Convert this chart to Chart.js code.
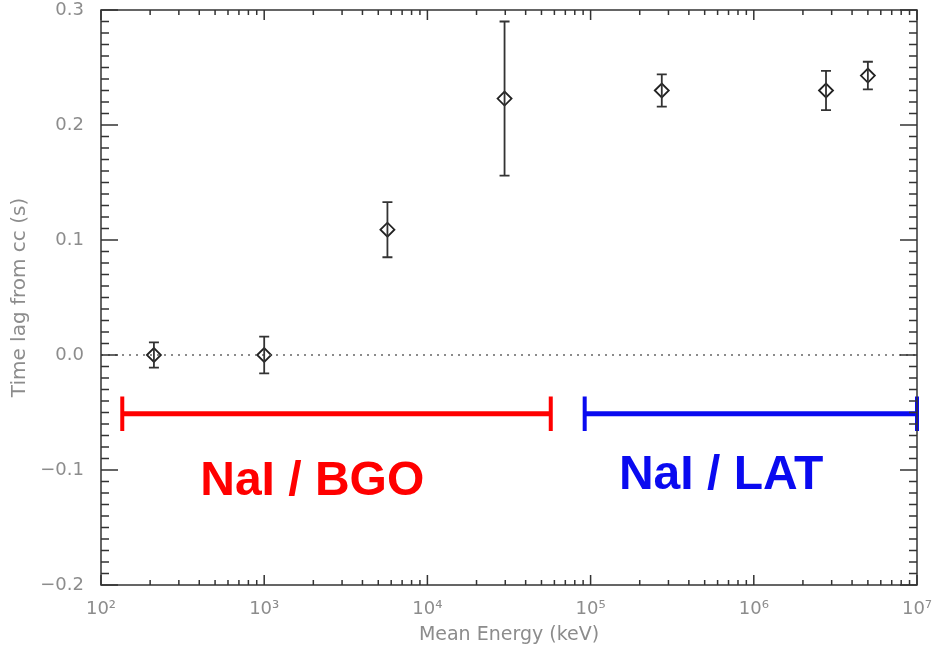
<!DOCTYPE html>
<html>
<head>
<meta charset="utf-8">
<script src="https://cdn.jsdelivr.net/npm/chart.js@4.4.1/dist/chart.umd.min.js"></script>
<style>
  html, body { margin: 0; padding: 0; background: #fff; }
  #wrap { width: 932px; height: 649px; }
</style>
</head>
<body>
<div id="wrap"><canvas id="lagChart" width="932" height="649"></canvas></div>
<script>
// mean energy (keV) of each band and the lag measured from the cross-correlation
const energy = [211, 1000, 5690, 29700, 273000, 2770000, 5000000];
const lag = [0.0, 0.0, 0.109, 0.223, 0.230, 0.230, 0.243];
const lagErr = [0.011, 0.016, 0.024, 0.067, 0.014, 0.017, 0.012];

// detector energy ranges
const naiBgoRange = [135, 57000];
const naiLatRange = [92000, 10000000];
const rangeLevel = -0.051;
const rangeCap = 0.015;

const yTicks = [-0.2, -0.1, 0.0, 0.1, 0.2, 0.3];
const xDecades = [2, 3, 4, 5, 6, 7];
const supDigits = { 2: "\u00b2", 3: "\u00b3", 4: "\u2074", 5: "\u2075", 6: "\u2076", 7: "\u2077" };

const GREY = "#8c8c8c";
const INK = "#333";

function rangeSets(range, color) {
  return [
    { data: [{ x: range[0], y: rangeLevel }, { x: range[1], y: rangeLevel }], borderWidth: 5 },
    { data: [{ x: range[0], y: rangeLevel + rangeCap }, { x: range[0], y: rangeLevel - rangeCap }], borderWidth: 4 },
    { data: [{ x: range[1], y: rangeLevel + rangeCap }, { x: range[1], y: rangeLevel - rangeCap }], borderWidth: 4 },
  ].map((d) => Object.assign(d, {
    showLine: true, borderColor: color, pointRadius: 0, clip: false, borderCapStyle: "butt",
  }));
}

// IDL-style frame with inward ticks on all four sides
const framePlugin = {
  id: "frame",
  afterDatasetsDraw(chart) {
    const { ctx, chartArea: a, scales } = chart;
    const xs = scales.x, ys = scales.y;
    ctx.save();
    ctx.strokeStyle = INK;
    ctx.lineWidth = 1.5;
    ctx.strokeRect(a.left, a.top, a.right - a.left, a.bottom - a.top);
    ctx.beginPath();
    for (let i = -20; i <= 30; i++) {
      const py = ys.getPixelForValue(i / 100);
      const len = i % 10 === 0 ? 17 : 8;
      ctx.moveTo(a.left, py); ctx.lineTo(a.left + len, py);
      ctx.moveTo(a.right, py); ctx.lineTo(a.right - len, py);
    }
    xDecades.forEach((d) => {
      for (let m = 1; m <= 9; m++) {
        if (d === 7 && m > 1) break;
        const px = xs.getPixelForValue(m * Math.pow(10, d));
        const len = m === 1 ? 10 : 5;
        ctx.moveTo(px, a.bottom); ctx.lineTo(px, a.bottom - len);
        ctx.moveTo(px, a.top); ctx.lineTo(px, a.top + len);
      }
    });
    ctx.stroke();
    ctx.restore();
  },
};

// vertical error bars with caps
const errorBarPlugin = {
  id: "errorBars",
  afterDatasetsDraw(chart) {
    const { ctx, scales } = chart;
    ctx.save();
    ctx.strokeStyle = INK;
    ctx.lineWidth = 1.8;
    ctx.beginPath();
    energy.forEach((e, i) => {
      const px = scales.x.getPixelForValue(e);
      const top = scales.y.getPixelForValue(lag[i] + lagErr[i]);
      const bot = scales.y.getPixelForValue(lag[i] - lagErr[i]);
      ctx.moveTo(px, top); ctx.lineTo(px, bot);
      ctx.moveTo(px - 5, top); ctx.lineTo(px + 5, top);
      ctx.moveTo(px - 5, bot); ctx.lineTo(px + 5, bot);
    });
    ctx.stroke();
    ctx.restore();
  },
};

// detector labels under the range bars
const rangeLabels = [
  { text: "NaI / BGO", x: 1970, y: -0.11, color: "#ff0000" },
  { text: "NaI / LAT", x: 631000, y: -0.105, color: "#0a0af0" },
];
const labelPlugin = {
  id: "rangeLabels",
  afterDatasetsDraw(chart) {
    const { ctx, scales } = chart;
    ctx.save();
    ctx.font = "bold 48px 'Liberation Sans', Arial, sans-serif";
    ctx.textAlign = "center";
    ctx.textBaseline = "middle";
    rangeLabels.forEach((l) => {
      ctx.fillStyle = l.color;
      ctx.fillText(l.text, scales.x.getPixelForValue(l.x), scales.y.getPixelForValue(l.y));
    });
    ctx.restore();
  },
};

new Chart(document.getElementById("lagChart"), {
  type: "scatter",
  data: {
    datasets: [
      {
        data: [{ x: 100, y: 0 }, { x: 10000000, y: 0 }],
        showLine: true,
        borderColor: "#666",
        borderWidth: 1.5,
        borderDash: [2, 5],
        pointRadius: 0,
      },
      ...rangeSets(naiBgoRange, "#ff0000"),
      ...rangeSets(naiLatRange, "#0a0af0"),
      {
        data: energy.map((e, i) => ({ x: e, y: lag[i] })),
        pointStyle: "rectRot",
        pointRadius: 7,
        pointBackgroundColor: "#fff",
        pointBorderColor: "#222",
        pointBorderWidth: 1.8,
        showLine: false,
      },
    ],
  },
  options: {
    responsive: false,
    animation: false,
    layout: { padding: { top: 10, right: 15, left: 0, bottom: 0 } },
    plugins: { legend: { display: false }, tooltip: { enabled: false } },
    scales: {
      x: {
        type: "logarithmic",
        min: 100,
        max: 10000000,
        grid: { display: false },
        border: { display: false },
        afterBuildTicks: (scale) => {
          scale.ticks = xDecades.map((d) => ({ value: Math.pow(10, d) }));
        },
        afterFit: (scale) => {
          scale.height = 64;
          scale.paddingLeft = 0;
          scale.paddingRight = 0;
        },
        ticks: {
          autoSkip: false,
          maxRotation: 0,
          padding: 6,
          color: GREY,
          font: { family: "'DejaVu Sans', sans-serif", size: 18 },
          callback: (v) => "10" + supDigits[Math.round(Math.log10(v))],
        },
        title: {
          display: true,
          text: "Mean Energy (keV)",
          color: GREY,
          font: { family: "'DejaVu Sans', sans-serif", size: 19 },
          padding: { top: 3, bottom: 3 },
        },
      },
      y: {
        min: -0.2,
        max: 0.3,
        grid: { display: false },
        border: { display: false },
        afterBuildTicks: (scale) => {
          scale.ticks = yTicks.map((v) => ({ value: v }));
        },
        afterFit: (scale) => {
          scale.width = 101;
          scale.paddingTop = 0;
          scale.paddingBottom = 0;
        },
        ticks: {
          padding: 9,
          color: GREY,
          font: { family: "'DejaVu Sans', sans-serif", size: 18 },
          callback: (v) => (v < 0 ? "\u2212" + Math.abs(v).toFixed(1) : v.toFixed(1)),
        },
        title: {
          display: true,
          text: "Time lag from cc (s)",
          color: GREY,
          font: { family: "'DejaVu Sans', sans-serif", size: 20 },
          padding: { top: 8, bottom: 8 },
        },
      },
    },
  },
  plugins: [framePlugin, errorBarPlugin, labelPlugin],
});
</script>
</body>
</html>
